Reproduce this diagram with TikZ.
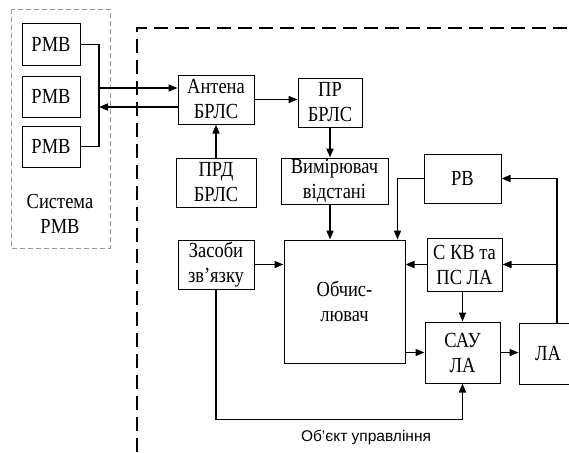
\documentclass[tikz,border=0pt]{standalone}
\usepackage{fontspec}
\setmainfont[FakeStretch=0.86]{Liberation Serif}
\newfontfamily\arialfont{Liberation Sans}
\usetikzlibrary{arrows.meta,positioning}

\begin{document}
\begin{tikzpicture}[
  x=1pt, y=-1pt,
  font=\fontsize{21.5}{25}\selectfont,
  block/.style={rectangle, draw=black, line width=1pt, fill=white, align=center, inner sep=0pt},
  wire/.style={line width=1.6pt, black},
  arrow/.style={-{Triangle[length=9pt,width=7pt]}, line width=1.6pt, black},
  sysbox/.style={draw=gray!80, line width=0.9pt, dash pattern=on 5pt off 3pt},
  objline/.style={draw=black, line width=1.7pt, dash pattern=on 14pt off 7pt}
]
\useasboundingbox (0,0) rectangle (569,452);

\draw[sysbox] (11,9) rectangle (110,248);
\draw[objline] (137,452) -- (137,28) -- (569,28);

\node[block, minimum width=58pt, minimum height=41pt] (rmb1) at (51,44.5) {РМВ};
\node[block, minimum width=58pt, minimum height=41pt] (rmb2) at (51,96.5) {РМВ};
\node[block, minimum width=58pt, minimum height=41pt] (rmb3) at (51,146.5) {РМВ};
\node[align=center] (sys) at (60,214) {Система\\РМВ};

\node[block, minimum width=76pt, minimum height=49pt] (antenna) at (216,99.5) {Антена\\БРЛС};
\node[block, minimum width=64pt, minimum height=49pt] (prbrls) at (330,102.5) {ПР\\БРЛС};
\node[block, minimum width=80pt, minimum height=49pt] (prd) at (216,182.5) {ПРД\\БРЛС};
\node[block, minimum width=107pt, minimum height=46pt] (vymir) at (334.5,181) {Вимірювач\\відстані};
\node[block, minimum width=76pt, minimum height=49pt] (zasoby) at (216,264.5) {Засоби\\зв’язку};
\node[block, minimum width=121pt, minimum height=123pt] (obch) at (344.5,301.5) {Обчис-\\лювач};
\node[block, minimum width=77pt, minimum height=49pt] (rv) at (462.5,178.5) {РВ};
\node[block, minimum width=75pt, minimum height=53pt] (skv) at (464.5,264.5) {С КВ та\\ПС ЛА};
\node[block, minimum width=75pt, minimum height=61pt] (sau) at (462.5,352.5) {САУ\\ЛА};
\node[block, minimum width=58pt, minimum height=61pt] (la) at (548,353.5) {ЛА};
\node[font=\arialfont\fontsize{15.5}{18}\selectfont] (obj) at (366,437) {Об’єкт управління};

\coordinate (busin) at (99,88);
\coordinate (busout) at (99,107);

\draw[wire] (rmb1.east) -| (busin) |- (rmb3.east);
\draw[arrow] (busin) -- (busin -| antenna.west);
\draw[arrow] (busout -| antenna.west) -- (busout);
\draw[arrow] (antenna.east) -- (antenna.east -| prbrls.west);
\draw[arrow] (prd) -- (antenna);
\draw[arrow] (prbrls) -- (prbrls.south |- vymir.north);
\draw[arrow] (prbrls.south |- vymir.south) -- (prbrls.south |- obch.north);
\draw[arrow] (zasoby.east) -- (zasoby.east -| obch.west);
\draw[arrow] (rv.west) -| ([xshift=-8pt]obch.north east);
\draw[arrow] (skv.west) -- (skv.west -| obch.east);
\draw[arrow] (skv.south -| sau.north) -- (sau.north);
\draw[arrow] (sau.west -| obch.east) -- (sau.west);
\draw[arrow] (sau.east) -- (sau.east -| la.west);
\draw[arrow] ([xshift=9pt]la.north) |- (rv.east);
\draw[arrow] ([xshift=9pt]la.north |- skv.east) -- (skv.east);
\draw[arrow] (zasoby.south) -- ++(0,130) -| (sau.south);
\end{tikzpicture}
\end{document}
